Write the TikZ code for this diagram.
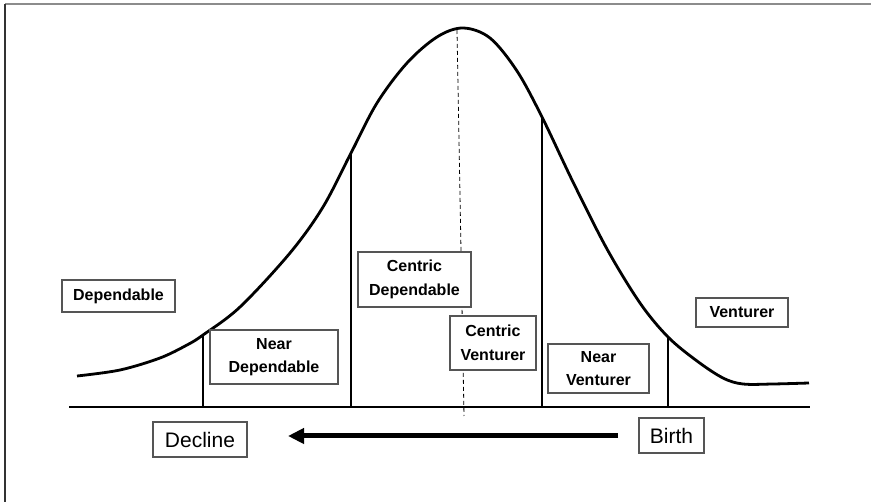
\documentclass[tikz,border=0pt]{standalone}
\usepackage{fontspec}
\setmainfont{Liberation Sans}
\usetikzlibrary{arrows.meta}
\definecolor{boxline}{HTML}{555555}
\tikzset{
  lbl/.style={draw=boxline, line width=1.2pt, fill=white, inner sep=0pt, align=center,
    font=\bfseries\fontsize{16}{23.5}\selectfont},
  bigl/.style={draw=boxline, line width=1.2pt, fill=white, inner sep=0pt,
    font=\fontsize{21}{24}\selectfont},
  thick line/.style={line width=2.8pt},
  divider/.style={line width=2.5pt},
}
\begin{document}
\begin{tikzpicture}[x=1pt,y=-1pt]
\useasboundingbox (0,0) rectangle (871,502);
% frame
\draw[color=gray!90, line width=2pt] (5,4.5) -- (871,4.5);
\draw[color=black!80, line width=2pt] (5,4) -- (5,502);
% dashed centre line
\coordinate (dtop) at (457,30);
\coordinate (dbot) at (464,416);
\draw[dashed, line width=0.8pt, dash pattern=on 4pt off 3pt] (dtop) -- (dbot);
% bell curve
\draw[thick line, line join=round] plot[smooth, tension=0.55] coordinates {
 (77,376) (120,370) (160,358) (187,345) (203,335) (240,307) (290,253)
 (323,207) (351,153) (377,103) (407,63) (437,37) (463,28) (490,38) (517,71)
 (542,117) (573,182) (607,249) (640,303) (668,337) (697,361) (723,378) (743,384)
 (773,384) (809,383)};
% dividers
\coordinate (b1) at (203,407); \coordinate (t1) at (203,335);
\coordinate (b2) at (351,407); \coordinate (t2) at (351,153);
\coordinate (b3) at (542,407); \coordinate (t3) at (542,117);
\coordinate (b4) at (668,407); \coordinate (t4) at (668,337);
\draw[divider] (b1) -- (t1);
\draw[divider] (b2) -- (t2);
\draw[divider] (b3) -- (t3);
\draw[divider] (b4) -- (t4);
% baseline
\coordinate (bl) at (69,407);
\coordinate (br) at (810,407);
\draw[thick line] (bl) -- (br);
% labels
\node[lbl, minimum width=113pt, minimum height=32pt] (dep) at (118.5,296) {Dependable};
\node[lbl, minimum width=128pt, minimum height=54pt] (ndep) at (274,357) {Near\\Dependable};
\node[lbl, minimum width=113pt, minimum height=55pt] (cdep) at (414.5,279.5) {Centric\\Dependable};
\node[lbl, minimum width=86pt, minimum height=54pt] (cven) at (493,343) {Centric\\Venturer};
\node[lbl, minimum width=101pt, minimum height=49pt] (nven) at (598.5,368.5) {Near\\Venturer};
\node[lbl, minimum width=92pt, minimum height=29pt] (ven) at (742,312.5) {Venturer};
\node[bigl, minimum width=94pt, minimum height=35pt] (decl) at (200,439.5) {Decline};
\node[bigl, minimum width=65pt, minimum height=35pt] (birth) at (671.5,435.5) {Birth};
% arrow
\coordinate (as) at (618,436);
\coordinate (ae) at (288,436);
\draw[line width=5pt, -{Triangle[length=16pt, width=15pt]}] (as) -- (ae);
\end{tikzpicture}
\end{document}
